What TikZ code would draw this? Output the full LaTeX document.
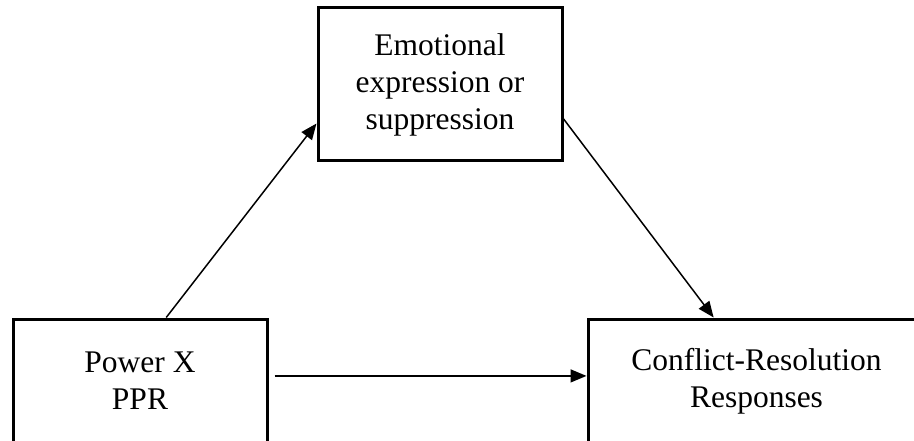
\documentclass[tikz,border=0pt]{standalone}
\usepackage{fontspec}
\setmainfont{Liberation Serif}
\usetikzlibrary{arrows.meta,calc}

\begin{document}
\begin{tikzpicture}[x=1pt,y=-1pt,
  box/.style={draw,line width=3pt,inner sep=0pt,align=center,
    font=\fontsize{31.5}{37}\selectfont},
  arr/.style={line width=1.5pt,-{Triangle[length=16pt,width=13pt]}}]
  \useasboundingbox (0,0) rectangle (914,441);
  \begin{scope}
    \clip (0,0) rectangle (914,441);
    % mediator
    \node[box,minimum width=244pt,minimum height=153pt] (emo) at (440,84.5)
      {\raisebox{-3pt}{\parbox{240pt}{\centering Emotional\\expression or\\suppression}}};
    % predictor
    \node[box,minimum width=254pt,minimum height=124pt] (ppr) at (140,381)
      {Power X\\PPR};
    % outcome
    \node[box,minimum width=337pt,minimum height=124pt] (crr) at (756.5,381)
      {Conflict-Resolution\\Responses};
  \end{scope}
  % paths
  \draw[arr] ($(ppr.north west)!0.602!(ppr.north east)$)
    -- ($(emo.north west)!0.75!(emo.south west)$);
  \draw[arr] ($(emo.north east)!0.72!(emo.south east)$)
    -- ($(crr.north west)!0.374!(crr.north east)$);
  \draw[arr,shorten <=6pt] ($(ppr.north east)!0.46!(ppr.south east)$)
    -- ($(crr.north west)!0.46!(crr.south west)$);
\end{tikzpicture}
\end{document}
